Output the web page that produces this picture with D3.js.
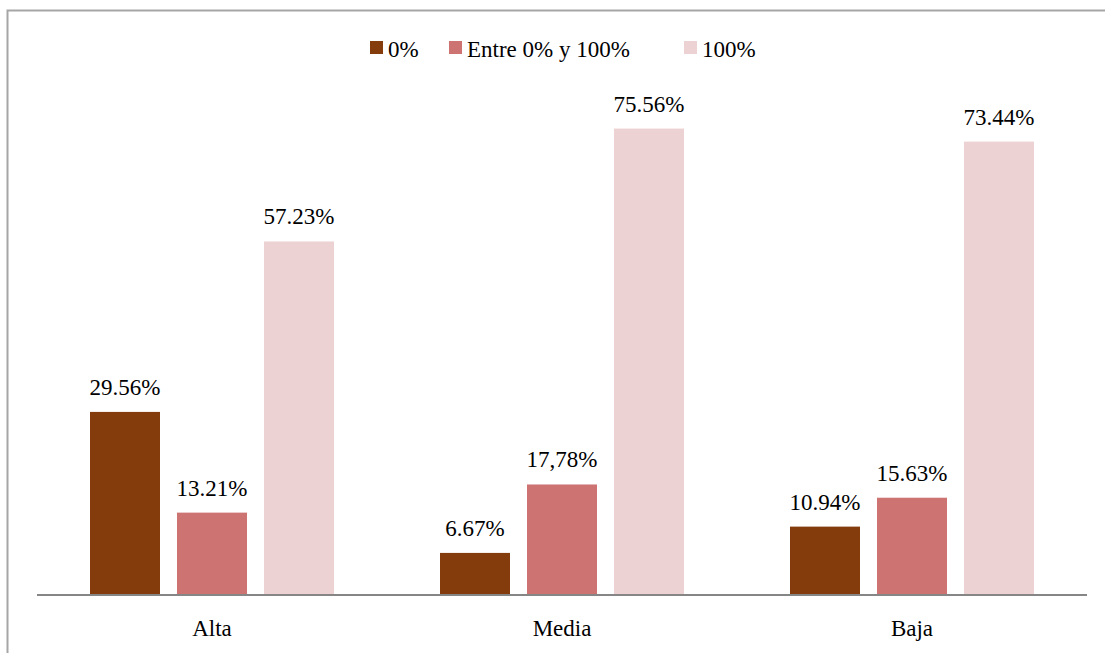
<!DOCTYPE html>
<html>
<head>
<meta charset="utf-8">
<script src="https://cdn.jsdelivr.net/npm/d3@7"></script>
<style>
  html, body { margin: 0; padding: 0; background: #fff; overflow: hidden; width: 1105px; height: 653px; }
  svg { display: block; }
  .lbl { font-family: "Liberation Serif", "Times New Roman", Times, serif; font-size: 23px; fill: #000; }
</style>
</head>
<body>
<div id="root"></div>
<script>
// Categories and series
const categories = ["Alta", "Media", "Baja"];
const seriesNames = ["0%", "Entre 0% y 100%", "100%"];
const seriesColors = ["#843C0C", "#CD7372", "#EDD2D3"];
const valuesZero = [29.56, 6.67, 10.94];
const valuesBetween = [13.21, 17.78, 15.63];
const valuesFull = [57.23, 75.56, 73.44];
const labelsZero = ["29.56%", "6.67%", "10.94%"];
const labelsBetween = ["13.21%", "17,78%", "15.63%"];
const labelsFull = ["57.23%", "75.56%", "73.44%"];

const seriesValues = [valuesZero, valuesBetween, valuesFull];
const seriesLabels = [labelsZero, labelsBetween, labelsFull];

const W = 1105, H = 653;
const svg = d3.select("#root").append("svg")
  .attr("width", W).attr("height", H)
  .attr("viewBox", `0 0 ${W} ${H}`);

svg.append("rect").attr("width", W).attr("height", H).attr("fill", "#fff");

// Outer frame: top and left edges
svg.append("path")
  .attr("d", `M7.5,${H}V10.5H${W}`)
  .attr("fill", "none")
  .attr("stroke", "#A6A6A6").attr("stroke-width", 2);

const x0 = d3.scaleBand().domain(categories).range([37, 1087]);
const x1 = d3.scaleBand().domain(d3.range(seriesNames.length))
  .range([53, 350 - 53]).paddingInner(17 / 87);
const y = d3.scaleLinear().domain([0, 80]).range([594, 101.2]);

const rows = categories.map((c, i) => ({
  cat: c,
  bars: seriesNames.map((s, j) => ({ j, value: seriesValues[j][i], label: seriesLabels[j][i] }))
}));

const groups = svg.append("g").selectAll("g")
  .data(rows).join("g")
  .attr("transform", d => `translate(${x0(d.cat)},0)`);

groups.selectAll("rect")
  .data(d => d.bars).join("rect")
  .attr("x", d => x1(d.j))
  .attr("width", x1.bandwidth())
  .attr("y", d => y(d.value))
  .attr("height", d => y(0) - y(d.value))
  .attr("fill", d => seriesColors[d.j]);

groups.selectAll("text.lbl")
  .data(d => d.bars).join("text")
  .attr("class", "lbl")
  .attr("x", d => x1(d.j) + x1.bandwidth() / 2)
  .attr("y", d => y(d.value) - 17)
  .attr("text-anchor", "middle")
  .text(d => d.label);

// Category axis
const xAxis = svg.append("g")
  .attr("transform", `translate(0,${y(0)})`)
  .call(d3.axisBottom(x0).tickSize(0).tickPadding(0));
xAxis.attr("font-family", null).attr("font-size", null);
xAxis.select(".domain").attr("stroke", "#868686").attr("stroke-width", 2).attr("d", "M37,1H1087");
xAxis.selectAll(".tick text")
  .attr("class", "lbl")
  .attr("dy", null)
  .attr("y", 42)
  .attr("fill", null);

// Legend
const legendItems = [
  { name: seriesNames[0], x: 370 },
  { name: seriesNames[1], x: 449 },
  { name: seriesNames[2], x: 684 }
];
const legend = svg.append("g").selectAll("g")
  .data(legendItems).join("g")
  .attr("transform", d => `translate(${d.x},41)`);
legend.append("rect")
  .attr("width", 13).attr("height", 13)
  .attr("fill", (d, i) => seriesColors[i]);
legend.append("text")
  .attr("class", "lbl")
  .attr("x", 18).attr("y", 16)
  .text(d => d.name);
</script>
</body>
</html>
